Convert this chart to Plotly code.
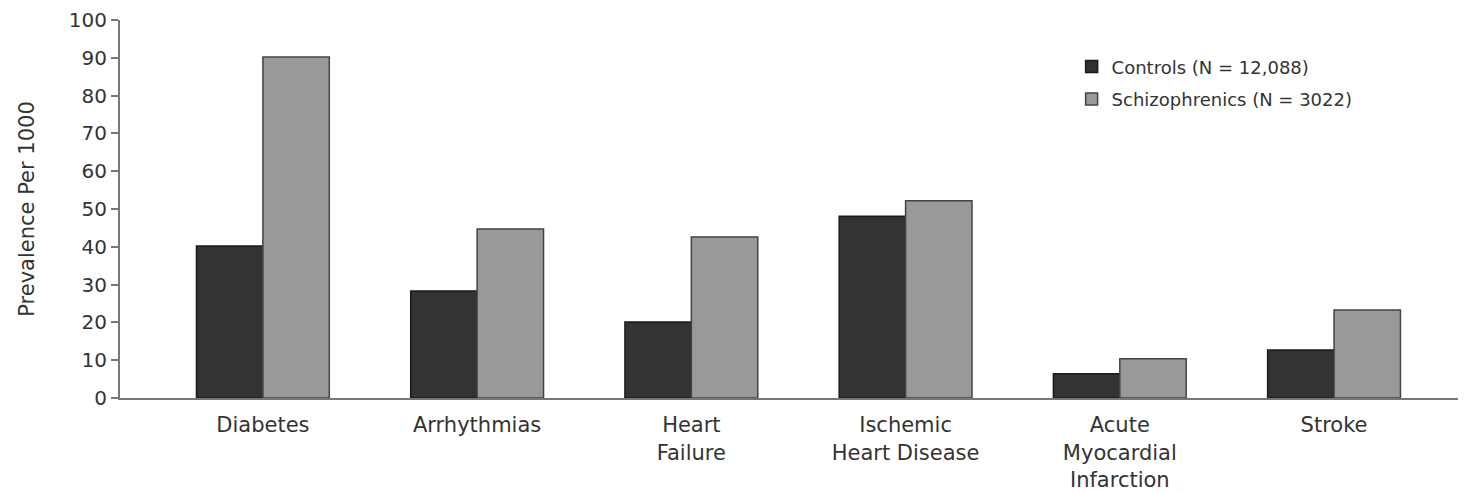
import plotly.graph_objects as go

categories = ["Diabetes", "Arrhythmias", "Heart<br>Failure", "Ischemic<br>Heart Disease",
              "Acute<br>Myocardial<br>Infarction", "Stroke"]
controls = [40.2, 28.3, 20.1, 48.1, 6.4, 12.7]
schizophrenics = [90.2, 44.7, 42.6, 52.2, 10.4, 23.3]
y_ticks = [0, 10, 20, 30, 40, 50, 60, 70, 80, 90, 100]

fig = go.Figure()
fig.add_trace(go.Bar(x=categories, y=controls, name="Controls (N = 12,088)",
                     legendgroup="a",
                     marker=dict(color="#333333", line=dict(color="#1a1a1a", width=1.5))))
fig.add_trace(go.Bar(x=categories, y=schizophrenics, name="Schizophrenics (N = 3022)",
                     legendgroup="b",
                     marker=dict(color="#999999", line=dict(color="#444444", width=1.5))))

font_family = "DejaVu Sans, Verdana, sans-serif"
fig.update_layout(
    width=1458, height=485,
    margin=dict(l=112, r=0, t=12, b=95),
    plot_bgcolor="white", paper_bgcolor="white",
    barmode="group", bargap=0.38, bargroupgap=0,
    font=dict(family=font_family, color="#333333", size=16),
    legend=dict(x=0.707, y=0.925, xanchor="left", yanchor="top",
                font=dict(size=18, color="#333333"), bgcolor="rgba(0,0,0,0)",
                traceorder="grouped", tracegroupgap=6),
    showlegend=True,
)
fig.update_yaxes(range=[0, 100], tickvals=y_ticks, ticks="outside", ticklen=7,
                 tickcolor="#777777", tickwidth=2, showline=True, linecolor="#777777",
                 linewidth=2, showgrid=False, zeroline=False,
                 tickfont=dict(size=20, color="#333333"),
                 title=dict(text="Prevalence Per 1000", font=dict(size=21, color="#333333"), standoff=28))
fig.update_xaxes(range=[-0.667, 5.616], showline=True, linecolor="#777777", linewidth=2,
                 ticks="outside", ticklen=7, tickcolor="rgba(0,0,0,0)",
                 showgrid=False, tickfont=dict(size=21, color="#333333"))

fig.write_html("out.html")
